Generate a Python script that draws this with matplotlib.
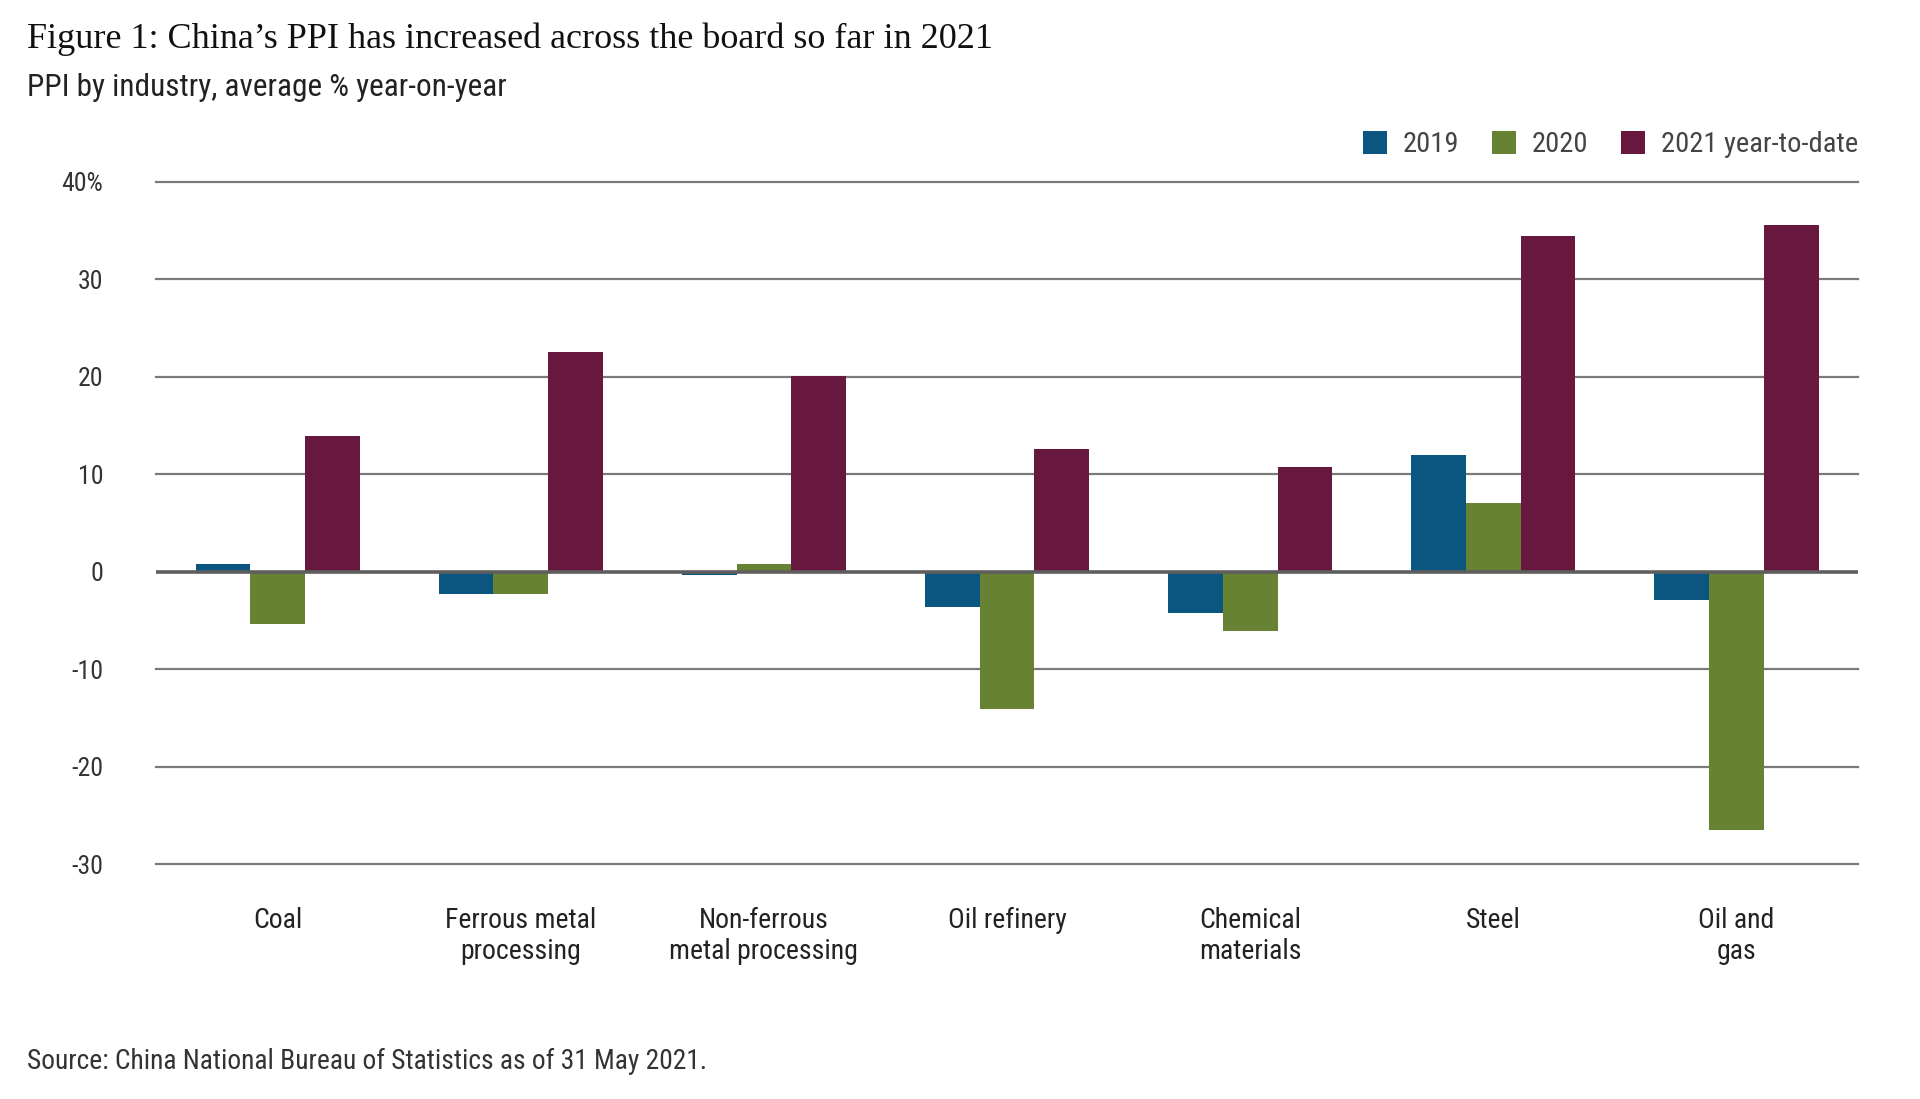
import numpy as np
import matplotlib
matplotlib.use("Agg")
import matplotlib.pyplot as plt
from matplotlib.patches import Patch

## data
categories = ["Coal", "Ferrous metal\nprocessing", "Non-ferrous\nmetal processing",
              "Oil refinery", "Chemical\nmaterials", "Steel", "Oil and\ngas"]
ppi_2019 = [0.8, -2.3, -0.4, -3.6, -4.2, 12.0, -2.9]
ppi_2020 = [-5.4, -2.3, 0.8, -14.1, -6.1, 7.0, -26.5]
ppi_2021 = [13.9, 22.5, 20.1, 12.6, 10.7, 34.4, 35.6]
series_names = ["2019", "2020", "2021 year-to-date"]
y_ticks = [-30, -20, -10, 0, 10, 20, 30, 40]
y_labels = ["-30", "-20", "-10", "0", "10", "20", "30", "40%"]

colors = ["#0b5680", "#678233", "#68183f"]
sans = ["Roboto Condensed", "Liberation Sans Narrow", "Roboto", "DejaVu Sans"]
serif = ["Liberation Serif", "DejaVu Serif"]
plt.rcParams["font.family"] = sans

## plot
fig = plt.figure(figsize=(19.2, 10.99), dpi=100)
ax = fig.add_axes([0.08125, 0.2138, 0.8865, 0.6209])

x = np.arange(len(categories))
w = 0.225
for i, vals in enumerate([ppi_2019, ppi_2020, ppi_2021]):
    ax.bar(x + (i - 1) * w, vals, width=w, color=colors[i], zorder=3)

# gridlines
for t in y_ticks:
    if t == 0:
        continue
    ax.axhline(t, color="#7a7a7a", lw=1.6, zorder=1, clip_on=False)
ax.axhline(0, color="#5e5e5e", lw=2.6, zorder=4)

ax.set_xlim(-0.5, 6.5)
ax.set_ylim(-30, 40)
ax.set_yticks(y_ticks)
ax.set_yticklabels(y_labels)
ax.set_xticks(x)
ax.set_xticklabels(categories, linespacing=1.2)
ax.tick_params(axis="y", length=0, pad=38, labelsize=18.5, labelcolor="#333333")
ax.tick_params(axis="x", length=0, pad=31, labelsize=20, labelcolor="#222222")
for s in ax.spines.values():
    s.set_visible(False)

handles = [Patch(facecolor=c, edgecolor="none") for c in colors]
ax.legend(handles, series_names, ncol=3, loc="center right",
          bbox_to_anchor=(1.0, 1.0545), frameon=False, fontsize=20.5,
          handlelength=0.85, handleheight=0.85, handletextpad=0.55,
          columnspacing=1.15, borderpad=0, borderaxespad=0,
          labelcolor="#444444")

fig.text(0.014, 0.9645, "Figure 1: China\u2019s PPI has increased across the board so far in 2021",
         family=serif, fontsize=26, va="center", ha="left", color="#111111")
fig.text(0.014, 0.9208, "PPI by industry, average % year-on-year",
         fontsize=22.5, va="center", ha="left", color="#222222")
fig.text(0.014, 0.0337, "Source: China National Bureau of Statistics as of 31 May 2021.",
         fontsize=19.8, va="center", ha="left", color="#333333")

plt.savefig("out.png", dpi=100, facecolor="white")
plt.close(fig)
